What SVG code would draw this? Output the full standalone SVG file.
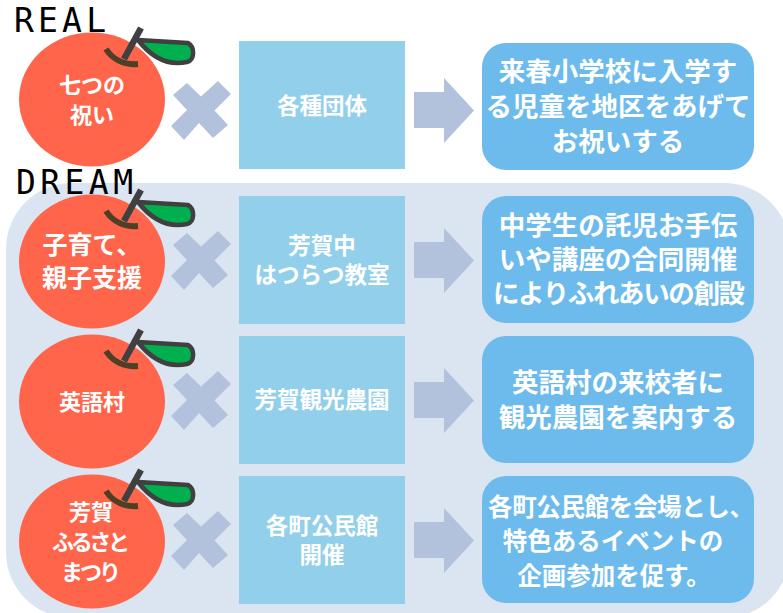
<svg xmlns="http://www.w3.org/2000/svg" xmlns:xlink="http://www.w3.org/1999/xlink" width="783" height="613" viewBox="0 0 783 613">
<style>
text{font-family:"Noto Sans CJK JP","Noto Sans",sans-serif;font-weight:700;fill:#fff;text-anchor:middle}
.lab{font-family:"DejaVu Sans Mono","Liberation Mono",monospace;font-weight:400;fill:#000;font-size:33px;text-anchor:start}
.fruit{fill:#ff654a}
.mid{fill:#92cfea}
.res{fill:#6dbbec}
.x,.ar{fill:#b2c2dd}
.t1{font-size:22px}.t2{font-size:25px}.t3{font-size:26.500px}.t4{font-size:24.500px}.tm{font-size:22.500px}
</style>
<defs>
<g id="apple">
<ellipse class="fruit" cx="92" cy="99.5" rx="73" ry="67"/>
<path d="M106 49 C113 60 125 65 138 64" fill="none" stroke="#4d4026" stroke-width="6"/>
<path d="M124 59 L141 28" fill="none" stroke="#404040" stroke-width="6.500"/>
<path d="M138 40 L188 43 C195 47 195 60 187 62 C168 66 152 58 138 40Z" fill="#00b04f" stroke="#404040" stroke-width="4.500" stroke-linejoin="round"/>
</g>
<path id="cross" d="M201 96.500 L218 81 L231 94 L214.500 110.500 L228 125 L213 138 L199 123 L184 140 L171 126 L187 110 L173 95 L187 83Z" class="x"/>
<path id="arrow" d="M414 92 H444 V78 L474 110.500 L444 143 V128 H414Z" class="ar"/>
</defs>
<rect id="dream-bg" x="6" y="183" width="784" height="435" rx="66" ry="66" fill="#dbe5f1"/>
<text class="lab" x="14" y="32" textLength="92" lengthAdjust="spacing">REAL</text>
<text class="lab" x="16" y="194" textLength="117" lengthAdjust="spacing">DREAM</text>
<g id="connectors">
<use xlink:href="#cross"/>
<use xlink:href="#arrow"/>
<use xlink:href="#cross" y="150"/>
<use xlink:href="#arrow" y="150"/>
<use xlink:href="#cross" y="290"/>
<use xlink:href="#arrow" y="290"/>
<use xlink:href="#cross" y="430"/>
<use xlink:href="#arrow" y="430"/>
</g>
<g id="apple1"><use xlink:href="#apple"/><text class="t1" x="92" y="93">七つの</text><text class="t1" x="92" y="123">祝い</text></g>
<g id="apple2"><use xlink:href="#apple" y="162"/><text class="t2" x="92" y="254">子育て、</text><text class="t2" x="92" y="287">親子支援</text></g>
<g id="apple3"><use xlink:href="#apple" y="302"/><text class="t1" x="92" y="410">英語村</text></g>
<g id="apple4"><use xlink:href="#apple" y="442"/><text class="t1" x="91" y="520">芳賀</text><text class="t1" x="91" y="550" textLength="78">ふるさと</text><text class="t1" x="91" y="580" textLength="60">まつり</text></g>
<g id="mid1"><rect class="mid" x="239" y="41" width="166" height="128"/><text class="tm" x="322" y="114">各種団体</text></g>
<g id="mid2"><rect class="mid" x="239" y="196" width="166" height="128"/><text class="tm" x="322" y="254">芳賀中</text><text class="tm" x="322" y="283">はつらつ教室</text></g>
<g id="mid3"><rect class="mid" x="239" y="336" width="166" height="128"/><text class="tm" x="322" y="408">芳賀観光農園</text></g>
<g id="mid4"><rect class="mid" x="239" y="476" width="166" height="128"/><text class="tm" x="322" y="534">各町公民館</text><text class="tm" x="322" y="563">開催</text></g>
<g id="res1"><rect class="res" x="482" y="43" width="272" height="127" rx="24"/><text class="t3" x="618" y="81">来春小学校に入学す</text><text class="t3" x="618" y="116">る児童を地区をあげて</text><text class="t3" x="618" y="151">お祝いする</text></g>
<g id="res2"><rect class="res" x="482" y="196" width="272" height="127" rx="24"/><text class="t3" x="618" y="235">中学生の託児お手伝</text><text class="t3" x="618" y="269">いや講座の合同開催</text><text class="t3" x="619" y="303" textLength="252">によりふれあいの創設</text></g>
<g id="res3"><rect class="res" x="482" y="336" width="272" height="127" rx="24"/><text class="t3" x="618" y="392">英語村の来校者に</text><text class="t3" x="618" y="427">観光農園を案内する</text></g>
<g id="res4"><rect class="res" x="482" y="476" width="272" height="127" rx="24"/><text class="t4" x="621" y="516" textLength="266">各町公民館を会場とし、</text><text class="t4" x="613" y="550">特色あるイベントの</text><text class="t4" x="614" y="585">企画参加を促す。</text></g>
</svg>
